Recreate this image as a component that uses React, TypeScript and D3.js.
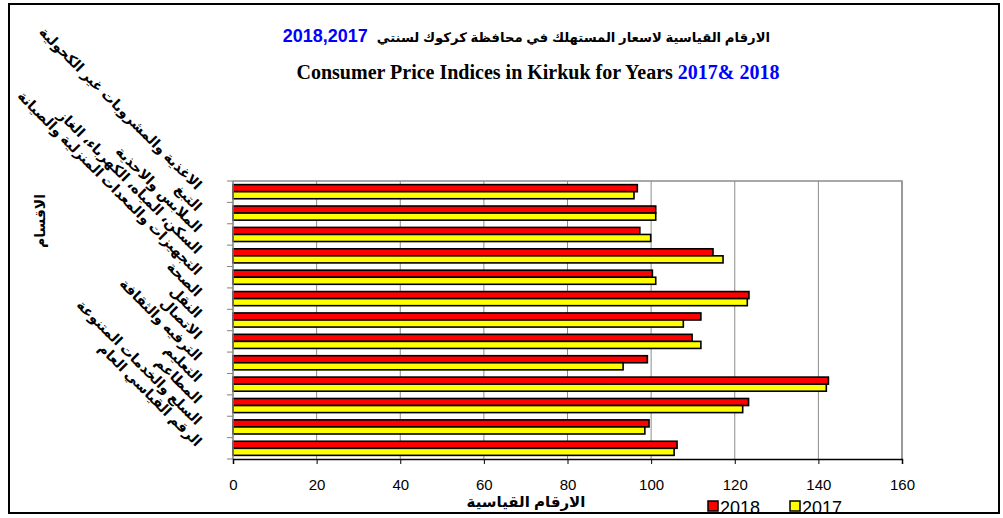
import React, { useRef, useEffect } from 'react';
import * as d3 from 'd3';

const categories = [
    'الاغذية والمشروبات غير الكحولية',
    'التبغ',
    'الملابس والاحذية',
    'السكن، المياه، الكهرباء، الغاز',
    'التجهيزات والمعدات المنزلية والصيانة',
    'الصحة',
    'النقل',
    'الاتصال',
    'الترفيه والثقافة',
    'التعليم',
    'المطاعم',
    'السلع والخدمات المتنوعة',
    'الرقم القياسي العام',
];

const values2018 = [96.7, 101.1, 97.3, 114.8, 100.3, 123.4, 111.9, 109.8, 99.1, 142.4, 123.3, 99.5, 106.2];
const values2017 = [95.9, 101.1, 99.9, 117.2, 101.1, 123.0, 107.7, 111.9, 93.3, 141.9, 121.9, 98.5, 105.5];

const seriesNames = ['2018', '2017'];
const seriesColors = ['#ff0000', '#ffff00'];
const xTicks = [0, 20, 40, 60, 80, 100, 120, 140, 160];

const titleArabic = 'الارقام القياسية لاسعار المستهلك في محافظة كركوك لسنتي';
const titleArabicYears = '2018,2017';
const titleEnglish = 'Consumer Price Indices in Kirkuk for Years ';
const titleEnglishYears = '2017& 2018';
const xTitle = 'الارقام القياسية';
const yTitle = 'الاقسام';

function App() {
    const chartRef = useRef<HTMLDivElement>(null);

    useEffect(() => {
        const width = 1003;
        const height = 518;
        const plot = { left: 233, right: 902, top: 181, bottom: 459 };

        const svg = d3
            .select(chartRef.current)
            .append('svg')
            .attr('width', width)
            .attr('height', height)
            .style('position', 'absolute')
            .style('left', 0)
            .style('top', 0)
            .style('background', '#fff');

        // outer frame
        svg.append('rect')
            .attr('x', 9)
            .attr('y', 4)
            .attr('width', 990)
            .attr('height', 509)
            .attr('fill', 'none')
            .attr('stroke', '#000')
            .attr('stroke-width', 2);

        const x = d3.scaleLinear().domain([0, 160]).range([plot.left, plot.right]);
        const y = d3.scaleBand<number>()
            .domain(d3.range(categories.length))
            .range([plot.top, plot.bottom])
            .paddingInner(0.34)
            .paddingOuter(0.17);
        const inner = d3.scaleBand<number>()
            .domain([0, 1])
            .range([0, y.bandwidth()]);
        const step = (plot.bottom - plot.top) / categories.length;

        // gridlines
        svg.append('g')
            .selectAll('line')
            .data(xTicks.slice(1))
            .enter()
            .append('line')
            .attr('x1', (d) => x(d))
            .attr('x2', (d) => x(d))
            .attr('y1', plot.top)
            .attr('y2', plot.bottom)
            .attr('stroke', '#8c8c8c')
            .attr('stroke-width', 1);

        // plot frame top / right
        svg.append('path')
            .attr('d', `M${plot.left},${plot.top}H${plot.right}V${plot.bottom}`)
            .attr('fill', 'none')
            .attr('stroke', '#8c8c8c')
            .attr('stroke-width', 1.5);

        // bars
        const series = [values2018, values2017];
        series.forEach((vals, s) => {
            svg.append('g')
                .selectAll('rect')
                .data(vals)
                .enter()
                .append('rect')
                .attr('x', x(0))
                .attr('y', (d, i) => (y(i) as number) + (inner(s) as number))
                .attr('width', (d) => x(d) - x(0))
                .attr('height', inner.bandwidth())
                .attr('fill', seriesColors[s])
                .attr('stroke', '#000')
                .attr('stroke-width', 1.6);
        });

        // left axis with category ticks
        svg.append('line')
            .attr('x1', plot.left)
            .attr('x2', plot.left)
            .attr('y1', plot.top)
            .attr('y2', plot.bottom)
            .attr('stroke', '#808080')
            .attr('stroke-width', 1.5);
        svg.append('g')
            .selectAll('line')
            .data(d3.range(categories.length + 1))
            .enter()
            .append('line')
            .attr('x1', plot.left - 6)
            .attr('x2', plot.left)
            .attr('y1', (d) => plot.top + d * step)
            .attr('y2', (d) => plot.top + d * step)
            .attr('stroke', '#808080')
            .attr('stroke-width', 1);

        // bottom axis
        const xAxis = svg.append('g')
            .attr('transform', `translate(0,${plot.bottom})`)
            .call(d3.axisBottom(x).tickValues(xTicks).tickSize(5).tickPadding(15));
        xAxis.select('.domain').attr('stroke', '#000').attr('stroke-width', 1.5);
        xAxis.selectAll('.tick line').attr('stroke', '#000');
        xAxis.selectAll('.tick text')
            .attr('font-family', 'Arial, "Liberation Sans", sans-serif')
            .attr('font-size', 15)
            .attr('fill', '#000');

        // category labels rotated
        svg.append('g')
            .selectAll('text')
            .data(categories)
            .enter()
            .append('text')
            .attr('transform', (d, i) => `translate(${plot.left - 37},${plot.top + (i + 0.5) * step - 1}) rotate(45)`)
            .attr('text-anchor', 'end')
            .attr('font-family', 'Arial, "DejaVu Sans", sans-serif')
            .attr('font-weight', 'bold')
            .attr('font-size', 14)
            .attr('fill', '#000')
            .text((d) => d);

        // titles
        const t1 = svg.append('text')
            .attr('x', 770)
            .attr('y', 42)
            .attr('text-anchor', 'end')
            .attr('font-family', 'Arial, "DejaVu Sans", sans-serif')
            .attr('font-weight', 'bold')
            .attr('font-size', 13.2)
            .attr('fill', '#000')
            .text(titleArabic);
        const t1w = (t1.node() as SVGTextElement).getComputedTextLength();
        svg.append('text')
            .attr('x', 770 - t1w - 9)
            .attr('y', 42)
            .attr('text-anchor', 'end')
            .attr('font-family', 'Arial, "Liberation Sans", sans-serif')
            .attr('font-weight', 'bold')
            .attr('font-size', 18)
            .attr('fill', '#0000ff')
            .text(titleArabicYears);

        const t2 = svg.append('text')
            .attr('x', 538)
            .attr('y', 79)
            .attr('text-anchor', 'middle')
            .attr('font-family', '"Times New Roman", "Liberation Serif", serif')
            .attr('font-weight', 'bold')
            .attr('font-size', 20)
            .attr('fill', '#000');
        t2.append('tspan').text(titleEnglish);
        t2.append('tspan').attr('fill', '#0000ff').text(titleEnglishYears);

        // axis titles
        svg.append('text')
            .attr('x', 526)
            .attr('y', 507)
            .attr('text-anchor', 'middle')
            .attr('font-family', 'Arial, "DejaVu Sans", sans-serif')
            .attr('font-weight', 'bold')
            .attr('font-size', 15)
            .text(xTitle);
        svg.append('text')
            .attr('transform', 'translate(45,221) rotate(-90)')
            .attr('text-anchor', 'middle')
            .attr('font-family', 'Arial, "DejaVu Sans", sans-serif')
            .attr('font-weight', 'bold')
            .attr('font-size', 14)
            .text(yTitle);

        // legend
        const legend = svg.append('g');
        const legendX = [708, 790];
        seriesNames.forEach((name, s) => {
            legend.append('rect')
                .attr('x', legendX[s])
                .attr('y', 501)
                .attr('width', 10)
                .attr('height', 10)
                .attr('fill', seriesColors[s])
                .attr('stroke', '#000')
                .attr('stroke-width', 1.5);
            legend.append('text')
                .attr('x', legendX[s] + 12)
                .attr('y', 514)
                .attr('font-family', 'Arial, "Liberation Sans", sans-serif')
                .attr('font-size', 18)
                .text(name);
        });

        return () => {
            svg.remove();
        };
    }, []);

    return <div ref={chartRef} style={{ width: 1003, height: 518 }}></div>;
}

export default App;
